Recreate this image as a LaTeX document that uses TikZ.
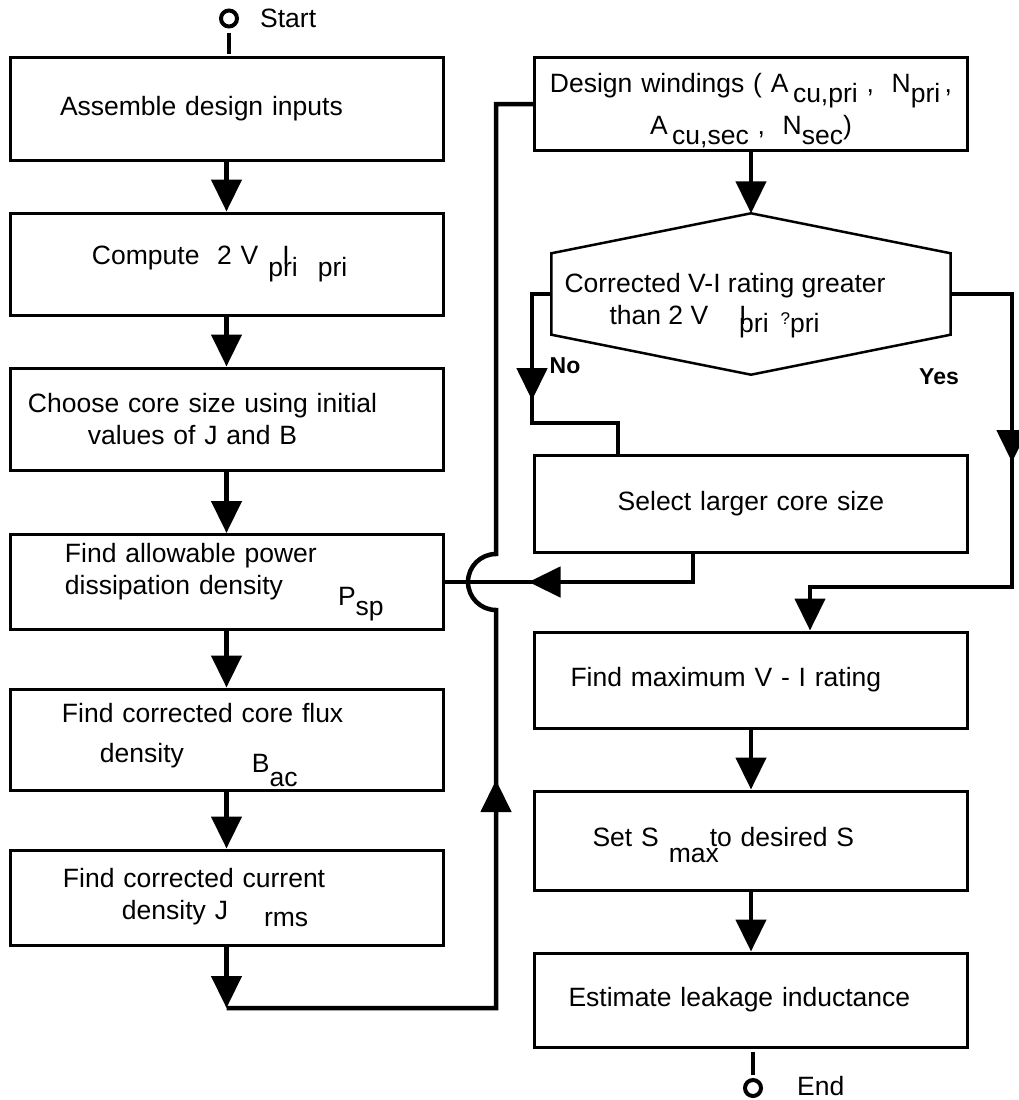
\documentclass[tikz,border=0pt]{standalone}
\usepackage{fontspec}
\setmainfont{Liberation Sans}
\usepackage{tikz}
\usetikzlibrary{arrows.meta,positioning,decorations.markings}
% lowered subscript, same size as the text
\newcommand{\lowr}[2][10pt]{\raisebox{-#1}{#2}}
\tikzset{
  box/.style={draw,line width=3pt,minimum width=433pt,minimum height=#1,text width=421pt,inner xsep=6pt,inner ysep=0pt,align=left},
  box/.default=100pt,
  hexline/.style={line width=2.5pt},
  wire/.style={line width=4.5pt},
  arr/.style={wire,-{Triangle[length=32pt,width=30pt]}},
  midarr/.style={postaction={decorate},decoration={markings,mark=at position #1 with {\arrow{Triangle[length=32pt,width=30pt]}}}},
  term/.style={circle,draw,line width=4pt,minimum size=16pt,inner sep=0pt},
  lbl/.style={font=\fontsize{23}{26}\selectfont\bfseries,inner sep=0pt},
}

\begin{document}
\begin{tikzpicture}[x=1pt,y=-1pt,font=\fontsize{26.5}{32}\selectfont]
  \useasboundingbox (0,0) rectangle (1018,1100);
  % left column
  \node[term] (start) at (229,18.5) {};
  \node[inner sep=0pt,right=21pt of start] (startlbl) {Start};
  \node[box=103pt] (b1) at (226.5,108.5) {\hspace*{44pt}Assemble design inputs};
  \node[box=102pt] (b2) at (226.5,264) {\hspace*{76pt}Compute\ \ 2 V\hspace{10pt}\rlap{\hspace{14pt}I}\lowr[12pt]{pri}\hspace{20pt}\lowr[12pt]{pri}};
  \node[box=102pt] (b3) at (226.5,419) {\hspace*{12pt}Choose core size using initial\\\hspace*{72pt}values of J and B};
  \node[box=95pt] (b4) at (226.5,582) {\hspace*{49pt}Find allowable power\\\hspace*{49pt}dissipation density\hspace{55pt}\lowr[11pt]{P\lowr{sp}}};
  \node[box=101pt] (b5) at (226.5,739.5) {\rule{0pt}{31pt}\hspace*{46pt}Find corrected core flux\\[8pt]\hspace*{84pt}density\hspace{68pt}\lowr[10pt]{B\lowr[14pt]{ac}}};
  \node[box=95pt] (b6) at (226.5,897.5) {\hspace*{47pt}Find corrected current\\\hspace*{106pt}density J\hspace{36pt}\lowr[7pt]{rms}};
  % right column
  \node[box=93pt,align=center] (d) at (751,104) {\rule{0pt}{32pt}Design windings ( A\lowr{\,cu,pri} ,\ \ N\lowr{pri}\,,\\[6pt]A\lowr{\,cu,sec} ,\ \ N\lowr{sec})};
  \node[minimum width=399pt,minimum height=161pt,inner sep=0pt] (chk) at (751,294) {};
  \node[inner sep=0pt,anchor=west,align=left,yshift=-12pt] (chktxt) at ([xshift=13pt]chk.west) {Corrected V-I rating greater\\\hspace*{45pt}than 2 V\hspace{31pt}\rlap{I}\lowr[8pt]{pri}\hspace{12pt}{\fontsize{17}{20}\selectfont ?}\lowr[8pt]{pri}};
  \node[box=97pt,align=center] (sel) at (751,503.5) {Select larger core size};
  \node[box=96pt] (fmax) at (751,680) {\hspace*{30pt}Find maximum V - I rating};
  \node[box=99pt] (setS) at (751,840.5) {\rule{0pt}{29pt}\hspace*{52pt}Set S\hspace{10pt}\rlap{\lowr[16pt]{max}}\hspace{41pt}to desired S};
  \node[box=94pt] (est) at (751,1000) {\hspace*{28pt}Estimate leakage inductance};
  \node[term] (fin) at (753,1088) {};
  \node[inner sep=0pt,right=34pt of fin,yshift=2pt] (finlbl) {End};
  \node[lbl] (nolbl) at (565,366) {No};
  \node[lbl] (yeslbl) at (939,377) {Yes};
  \coordinate (no) at (532,423);
  \coordinate (yes) at (1012,587);
  \coordinate (lp) at (496,1008);
  \coordinate (hop) at (496,582);

  % decision outline
  \draw[hexline] (chk.north) -- ([yshift=-40pt]chk.north east) -- ([yshift=40pt]chk.south east)
    -- (chk.south) -- ([yshift=40pt]chk.south west) -- ([yshift=-40pt]chk.north west) -- cycle;

  % connectors
  \draw[wire,shorten <=4pt,shorten >=2pt] (start.south) -- (start.south |- b1.north);
  \draw[arr] (b1) -- (b2);
  \draw[arr] (b2) -- (b3);
  \draw[arr] (b3) -- (b4);
  \draw[arr] (b4) -- (b5);
  \draw[arr] (b5) -- (b6);
  \draw[arr] (b6) -- (b6 |- lp);
  \draw[wire,midarr=497.5pt] (b6 |- lp) -- (lp) -- ([yshift=-28pt]hop)
    arc[start angle=270,end angle=90,radius=28pt] |- (d.west);
  \draw[arr] (d) -- (chk.north);
  \draw[wire,midarr=125.5pt] (chk.west) -| (no) -| ([xshift=-133pt]sel.north);
  \draw[arr,midarr=229.5pt] (chk.east) -| (yes) -| ([xshift=59pt]fmax.north);
  \draw[wire,midarr=193pt] ([xshift=-58pt]sel.south) |- (b4.east);
  \draw[arr] (fmax) -- (setS);
  \draw[arr] (setS) -- (est);
  \draw[wire,shorten <=3pt,shorten >=3pt] (est.south -| fin.north) -- (fin.north);
\end{tikzpicture}
\end{document}
